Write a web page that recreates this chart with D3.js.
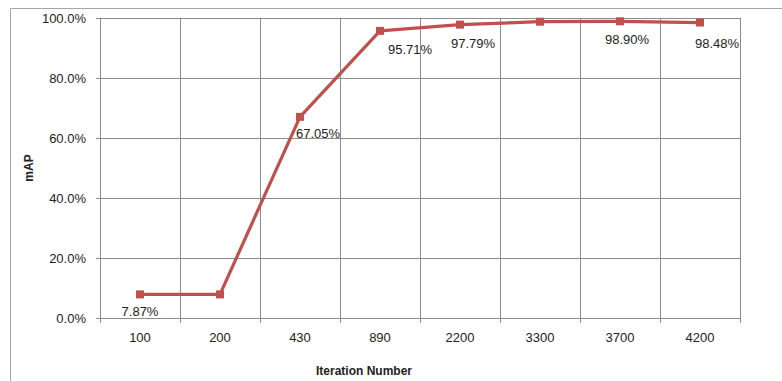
<!DOCTYPE html>
<html><head><meta charset="utf-8">
<script src="https://cdn.jsdelivr.net/npm/d3@7"></script>
<style>
body{margin:0;background:#fff;}
text{font-family:"Liberation Sans",Arial,sans-serif;fill:#222;}
</style></head>
<body><svg id="c" width="782" height="381"></svg>
<script>
const categories = ["100","200","430","890","2200","3300","3700","4200"];
const mapValues = [7.87, 7.87, 67.05, 95.71, 97.79, 98.77, 98.90, 98.48];
const showLabel = [true, false, true, true, true, false, true, true];
const yTicks = [0, 20, 40, 60, 80, 100];
// label placement offsets (dx, dy from the point), layout only
const labelOffsets = [[0,17],[0,0],[18,17],[30,19],[13,19],[0,0],[7,18],[17,21]];

const svg = d3.select("#c");
const m = {l:100, t:18, r:740, b:318};
const x = d3.scaleBand().domain(categories).range([m.l, m.r]);
const y = d3.scaleLinear().domain([0,100]).range([m.b, m.t]);
const grey = "#8c8c8c";

// outer chart border
svg.append("path").attr("d","M10.5,381 V8.5 H782").attr("fill","none").attr("stroke","#a6a6a6").attr("stroke-width",1);

// horizontal gridlines
svg.append("g").selectAll("line").data(yTicks).join("line")
  .attr("x1",m.l-4).attr("x2",m.r)
  .attr("y1",d=>Math.round(y(d))+0.5).attr("y2",d=>Math.round(y(d))+0.5)
  .attr("stroke",grey).attr("stroke-width",1);
// vertical gridlines at category boundaries
const bounds = categories.map(c=>x(c)).concat([m.r]);
svg.append("g").selectAll("line").data(bounds).join("line")
  .attr("x1",d=>Math.round(d)+0.5).attr("x2",d=>Math.round(d)+0.5)
  .attr("y1",m.t).attr("y2",m.b+5)
  .attr("stroke",grey).attr("stroke-width",1);

// y tick labels
svg.append("g").selectAll("text").data(yTicks).join("text")
  .attr("x",m.l-14).attr("y",d=>y(d)).attr("dy","0.35em")
  .attr("text-anchor","end").attr("font-size",13)
  .text(d=>d3.format(".1f")(d)+"%");
// x tick labels
svg.append("g").selectAll("text").data(categories).join("text")
  .attr("x",d=>x(d)+x.bandwidth()/2).attr("y",m.b+24)
  .attr("text-anchor","middle").attr("font-size",13)
  .text(d=>d);

// axis titles
svg.append("text").attr("transform",`translate(33,${(m.t+m.b)/2}) rotate(-90)`)
  .attr("text-anchor","middle").attr("font-size",12).attr("font-weight","bold").text("mAP");
svg.append("text").attr("x",364).attr("y",375)
  .attr("text-anchor","middle").attr("font-size",12).attr("font-weight","bold").text("Iteration Number");

// line
const pts = categories.map((c,i)=>({c, v:mapValues[i], i}));
const cx = d=>x(d.c)+x.bandwidth()/2;
svg.append("path").datum(pts)
  .attr("d",d3.line().x(cx).y(d=>y(d.v)))
  .attr("fill","none").attr("stroke","#C0504D").attr("stroke-width",3.2).attr("stroke-linejoin","round");
svg.append("g").selectAll("rect").data(pts).join("rect")
  .attr("x",d=>cx(d)-4).attr("y",d=>y(d.v)-4).attr("width",8).attr("height",8)
  .attr("fill","#C0504D");

// data labels
svg.append("g").selectAll("text").data(pts.filter(d=>showLabel[d.i])).join("text")
  .attr("x",d=>cx(d)+labelOffsets[d.i][0]).attr("y",d=>y(d.v)+labelOffsets[d.i][1])
  .attr("dy","0.35em").attr("text-anchor","middle").attr("font-size",13)
  .text(d=>d3.format(".2f")(d.v)+"%");
</script></body></html>
